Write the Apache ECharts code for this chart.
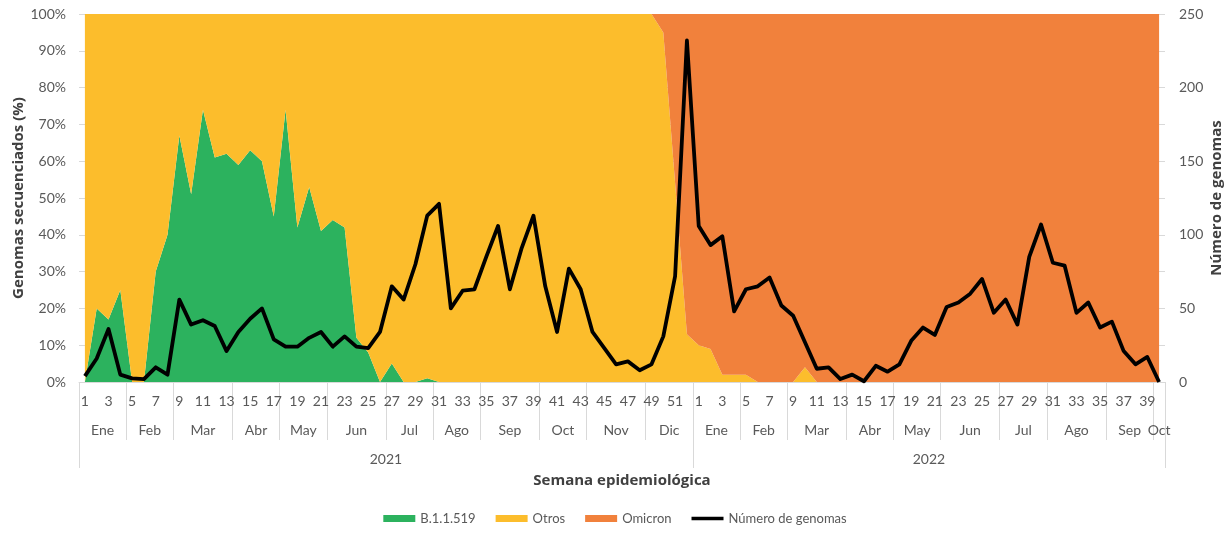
<!DOCTYPE html>
<html>
<head>
<meta charset="utf-8">
<script src="https://cdn.jsdelivr.net/npm/echarts@6/dist/echarts.min.js"></script>
<style>
html,body{margin:0;padding:0;background:#fff;}
#chart{width:1230px;height:536px;}
</style>
</head>
<body>
<div id="chart"></div>
<script>
// ---- Data ----
const weeks2021 = ['1','2','3','4','5','6','7','8','9','10','11','12','13','14','15','16','17','18','19','20','21','22','23','24','25','26','27','28','29','30','31','32','33','34','35','36','37','38','39','40','41','42','43','44','45','46','47','48','49','50','51','52'];
const weeks2022 = ['1','2','3','4','5','6','7','8','9','10','11','12','13','14','15','16','17','18','19','20','21','22','23','24','25','26','27','28','29','30','31','32','33','34','35','36','37','38','39','40'];

const months2021 = [['Ene',4],['Feb',4],['Mar',5],['Abr',4],['May',4],['Jun',5],['Jul',4],['Ago',4],['Sep',5],['Oct',4],['Nov',5],['Dic',4]];
const months2022 = [['Ene',4],['Feb',4],['Mar',5],['Abr',4],['May',4],['Jun',5],['Jul',4],['Ago',5],['Sep',4],['Oct',1]];
const years = [['2021',52],['2022',40]];

// % of sequenced genomes
const b11519_2021 = [0,20,17,25,0,0,30,40,67,51,74,61,62,59,63,60,45,74,42,53,41,44,42,12,8,0,5,0,0,1,0,0,0,0,0,0,0,0,0,0,0,0,0,0,0,0,0,0,0,0,0,0];
const b11519_2022 = [0,0,0,0,0,0,0,0,0,0,0,0,0,0,0,0,0,0,0,0,0,0,0,0,0,0,0,0,0,0,0,0,0,0,0,0,0,0,0,0];
const otros2021 = [100,80,83,75,100,100,70,60,33,49,26,39,38,41,37,40,55,26,58,47,59,56,58,88,92,100,95,100,100,99,100,100,100,100,100,100,100,100,100,100,100,100,100,100,100,100,100,100,100,95,54,13];
const otros2022 = [10,9,2,2,2,0,0,0,0,4,0,0,0,0,0,0,0,0,0,0,0,0,0,0,0,0,0,0,0,0,0,0,0,0,0,0,0,0,0,0];
const omicron2021 = [0,0,0,0,0,0,0,0,0,0,0,0,0,0,0,0,0,0,0,0,0,0,0,0,0,0,0,0,0,0,0,0,0,0,0,0,0,0,0,0,0,0,0,0,0,0,0,0,0,5,46,87];
const omicron2022 = [90,91,98,98,98,100,100,100,100,96,100,100,100,100,100,100,100,100,100,100,100,100,100,100,100,100,100,100,100,100,100,100,100,100,100,100,100,100,100,100];

// Number of genomes
const genomas2021 = [4,16,36,5,2.5,2,10,5,56,39,42,38,21,34,43,50,29,24,24,30,34,24,31,24,23,34,65,56,80,113,121,50,62,63,85,106,63,91,113,65,34,77,63,34,23,12,14,8,12,31,72,232];
const genomas2022 = [106,93,99,48,63,65,71,52,45,27,9,10,2,5,0.5,11,7,12,28,37,32,51,54,60,70,47,56,39,85,107,81,79,47,54,37,41,21,12,17,0];

const yLeftTicks = {min:0, max:100, interval:10};
const yRightTicks = {min:0, max:250, interval:50};

// ---- Build ----
const categories = weeks2021.concat(weeks2022);
const monthGroups = months2021.concat(months2022);
const monthBounds = [], monthCenters = [], monthNames = {};
let s = 0;
monthGroups.forEach(([n, c]) => {
  monthBounds.push(s - 0.5);
  const ctr = s + (c - 1) / 2;
  monthCenters.push(ctr);
  monthNames[ctr] = n;
  s += c;
});
monthBounds.push(s - 0.5);
const yearBounds = [], yearCenters = [], yearNames = {};
s = 0;
years.forEach(([n, c]) => {
  yearBounds.push(s - 0.5);
  const ctr = s + (c - 1) / 2;
  yearCenters.push(ctr);
  yearNames[ctr] = n;
  s += c;
});
yearBounds.push(s - 0.5);
const nCat = categories.length;

const FONT = 'Lato';
const labelColor = '#595959';
const titleStyle = {fontFamily:'Open Sans', fontWeight:'bold', fontSize:15, color:'#404040'};
const lineGray = '#d9d9d9';

const chart = echarts.init(document.getElementById('chart'), null, {renderer:'canvas'});
chart.setOption({
  animation:false,
  backgroundColor:'#ffffff',
  grid:{left:79, right:65, top:14, bottom:154, containLabel:false, outerBoundsMode:'none'},
  legend:{
    bottom:6, left:'center',
    itemWidth:32, itemHeight:7, itemGap:20,
    textStyle:{fontFamily:FONT, fontSize:13, color:labelColor},
    data:[{name:'B.1.1.519', icon:'rect'},{name:'Otros', icon:'rect'},{name:'Omicron', icon:'rect'},
          {name:'Número de genomas', icon:'path://M0,0H32V3.4H0Z'}]
  },
  xAxis:[
    {
      type:'category', data:categories, boundaryGap:true, position:'bottom',
      axisLine:{show:true, lineStyle:{color:lineGray, width:1}},
      axisTick:{show:false},
      axisLabel:{interval:1, margin:12, fontFamily:FONT, fontSize:14, color:labelColor},
      name:'Semana epidemiológica', nameLocation:'middle', nameGap:91, nameMoveOverlap:false, nameTextStyle:titleStyle
    },
    {
      type:'value', min:-0.5, max:nCat-0.5, position:'bottom',
      axisLine:{show:false}, splitLine:{show:false},
      axisTick:{show:true, customValues:monthBounds, length:58, lineStyle:{color:lineGray, width:1}},
      axisLabel:{show:true, customValues:monthCenters, margin:41, fontFamily:FONT, fontSize:14, color:labelColor,
        formatter:(v)=>monthNames[v] || ''}
    },
    {
      type:'value', min:-0.5, max:nCat-0.5, position:'bottom',
      axisLine:{show:false}, splitLine:{show:false},
      axisTick:{show:true, customValues:yearBounds, length:86, lineStyle:{color:lineGray, width:1}},
      axisLabel:{show:true, customValues:yearCenters, margin:70, fontFamily:FONT, fontSize:14, color:labelColor,
        formatter:(v)=>yearNames[v] || ''}
    }
  ],
  yAxis:[
    {
      type:'value', min:yLeftTicks.min, max:yLeftTicks.max, interval:yLeftTicks.interval, position:'left',
      axisLine:{show:false}, axisTick:{show:false},
      splitLine:{show:true, lineStyle:{color:lineGray, width:1}},
      axisLabel:{formatter:'{value}%', margin:13, fontFamily:FONT, fontSize:14, color:labelColor},
      name:'Genomas secuenciados (%)', nameLocation:'middle', nameGap:53, nameMoveOverlap:false, nameTextStyle:titleStyle
    },
    {
      type:'value', min:yRightTicks.min, max:yRightTicks.max, interval:yRightTicks.interval, position:'right',
      axisLine:{show:false}, axisTick:{show:false}, splitLine:{show:false},
      axisLabel:{margin:14, fontFamily:FONT, fontSize:14, color:labelColor},
      name:'Número de genomas', nameLocation:'middle', nameGap:44, nameMoveOverlap:false, nameTextStyle:titleStyle
    }
  ],
  series:[
    {name:'B.1.1.519', type:'line', stack:'pct', xAxisIndex:0, yAxisIndex:0, symbol:'none',
     lineStyle:{width:0}, areaStyle:{color:'#2CB25E', opacity:1}, itemStyle:{color:'#2CB25E'},
     data:b11519_2021.concat(b11519_2022)},
    {name:'Otros', type:'line', stack:'pct', xAxisIndex:0, yAxisIndex:0, symbol:'none',
     lineStyle:{width:0}, areaStyle:{color:'#FCBD2C', opacity:1}, itemStyle:{color:'#FCBD2C'},
     data:otros2021.concat(otros2022)},
    {name:'Omicron', type:'line', stack:'pct', xAxisIndex:0, yAxisIndex:0, symbol:'none',
     lineStyle:{width:0}, areaStyle:{color:'#F1813C', opacity:1}, itemStyle:{color:'#F1813C'},
     data:omicron2021.concat(omicron2022)},
    {name:'Número de genomas', type:'line', xAxisIndex:0, yAxisIndex:1, symbol:'none', z:5,
     lineStyle:{width:3.8, color:'#000000', join:'round'}, itemStyle:{color:'#000000'},
     data:genomas2021.concat(genomas2022)}
  ]
});
</script>
</body>
</html>
